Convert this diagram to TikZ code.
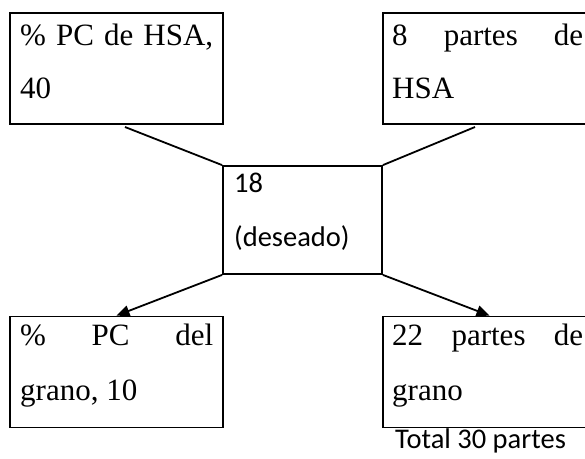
\documentclass[tikz,border=0pt]{standalone}
\usepackage{fontspec}
\setmainfont{Liberation Serif}
\newfontfamily\calibrifont{Carlito}
\usetikzlibrary{arrows.meta}
\begin{document}
\begin{tikzpicture}[x=1pt,y=-1pt,
  box/.style={draw,line width=1.8pt,rectangle,inner sep=0pt,minimum width=213pt,minimum height=111pt},
  cbox/.style={draw,line width=1.8pt,rectangle,inner sep=0pt,minimum width=159pt,minimum height=108pt},
  serif/.style={anchor=base west,inner sep=0pt,font=\fontsize{31}{37}\selectfont},
  sans/.style={anchor=base west,inner sep=0pt,font=\calibrifont\fontsize{28.5}{34}\selectfont},
  conn/.style={line width=1.8pt},
  arr/.style={line width=1.8pt,-{Triangle[length=13pt,width=11pt]}}]
\useasboundingbox (0,0) rectangle (585,458);
\clip (0,0) rectangle (585,458);
\fill[white] (0,0) rectangle (585,458);
% boxes
\node[box] (TL) at (116.5,68.5) {};
\node[box] (TR) at (489.5,68.5) {};
\node[cbox] (C) at (302.5,220) {};
\node[box] (BL) at (116.5,372) {};
\node[box] (BR) at (489.5,372) {};
% texts
\node[serif] (tl1) at (20,45) {\makebox[193pt][s]{\% PC de HSA,}};
\node[serif] (tl2) at (20,98) {40};
\node[serif] (tr1) at (392,45) {\makebox[191pt][s]{8 partes de}};
\node[serif] (tr2) at (392,98) {HSA};
\node[sans] (c1) at (234,192) {18};
\node[sans] (c2) at (234,246) {(deseado)};
\node[serif] (bl1) at (20,345) {\makebox[193pt][s]{\% PC del}};
\node[serif] (bl2) at (20,400) {grano, 10};
\node[serif] (br1) at (392,345) {\makebox[191pt][s]{22 partes de}};
\node[serif] (br2) at (392,400) {grano};
\node[sans] (tot) at (395,448) {Total 30 partes};
% connectors
\coordinate (a1) at (125,127);
\coordinate (a2) at (475,127);
\draw[conn] (a1) -- (C.north west);
\draw[conn] (a2) -- (C.north east);
\draw[arr] (C.south west) -- (BL.north);
\draw[arr] (C.south east) -- (BR.north);
\end{tikzpicture}
\end{document}
